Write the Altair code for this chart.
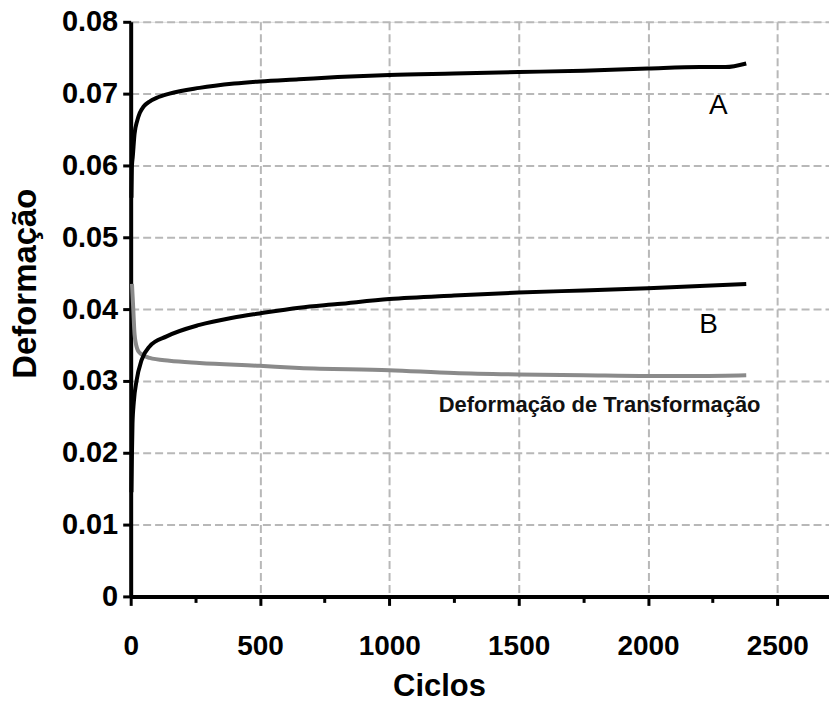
import altair as alt
import pandas as pd

# --- data ---
a_cycles = [3, 5, 8, 15, 25, 35, 50, 73, 100, 150, 266, 400, 500, 650, 800, 1000, 1250, 1500, 1750, 2000, 2200, 2300, 2380]
a_strain = [0.0555, 0.0600, 0.0612, 0.0644, 0.0662, 0.0673, 0.0682, 0.0689, 0.0694, 0.0700, 0.0708, 0.0714, 0.0717, 0.0720, 0.0723, 0.0726, 0.0728, 0.0730, 0.0732, 0.0735, 0.0737, 0.0737, 0.0742]

b_cycles = [3, 5, 7, 12, 23, 42, 73, 139, 266, 394, 498, 652, 800, 1000, 1250, 1500, 1750, 2000, 2200, 2380]
b_strain = [0.0145, 0.0200, 0.0240, 0.0270, 0.0301, 0.0329, 0.0348, 0.0362, 0.0378, 0.0388, 0.0394, 0.0402, 0.0407, 0.0414, 0.0419, 0.0423, 0.0426, 0.0429, 0.0432, 0.0435]

t_cycles = [5, 10, 15, 25, 35, 73, 150, 266, 498, 652, 1000, 1250, 1500, 1750, 2000, 2200, 2380]
t_strain = [0.0435, 0.0400, 0.0365, 0.0345, 0.0339, 0.0332, 0.0328, 0.0325, 0.0321, 0.0318, 0.0315, 0.0311, 0.0309, 0.0308, 0.0307, 0.0307, 0.0308]

big_labels = ["A", "B"]
big_label_x = [2272, 2234]
big_label_y = [0.0683, 0.0378]

small_label = ["Deformação de Transformação"]
small_label_x = [1813]
small_label_y = [0.0267]

x_ticks = [0, 250, 500, 750, 1000, 1250, 1500, 1750, 2000, 2250, 2500]
y_ticks = [round(i * 0.005, 3) for i in range(17)]

FONT = "Liberation Sans"

df_a = pd.DataFrame({"c": a_cycles, "v": a_strain})
df_b = pd.DataFrame({"c": b_cycles, "v": b_strain})
df_t = pd.DataFrame({"c": t_cycles, "v": t_strain})
df_big = pd.DataFrame({"t": big_labels, "c": big_label_x, "v": big_label_y})
df_small = pd.DataFrame({"t": small_label, "c": small_label_x, "v": small_label_y})

major_x = "datum.value % 500 === 0"
major_y = "abs(datum.value * 100 - round(datum.value * 100)) < 1e-6"

x_scale = alt.Scale(domain=[0, 2700], nice=False, zero=True)
y_scale = alt.Scale(domain=[0, 0.08], nice=False)

x_axis = alt.Axis(
    title="Ciclos",
    values=x_ticks,
    labelExpr=f"{major_x} ? datum.label : ''",
    format="d",
    grid=True,
    gridColor="#b8b8b8",
    gridDash=[8, 4],
    gridWidth=2,
    gridOpacity={"condition": {"test": f"{major_x} && datum.value > 0", "value": 1}, "value": 0},
    tickSize={"condition": {"test": major_x, "value": 9}, "value": 6},
    tickColor="black",
    tickWidth=3,
    domainColor="black",
    domainWidth=4,
    labelFont=FONT,
    labelFontSize=28,
    labelFontWeight="bold",
    labelColor="black",
    labelPadding=27,
    labelFlush=False,
    titleFont=FONT,
    titleFontSize=31,
    titleFontWeight="bold",
    titleColor="black",
    titleX=309,
    titleY=90,
    titleBaseline="middle",
    titleAlign="center",
)

y_axis = alt.Axis(
    title="Deformação",
    values=y_ticks,
    labelExpr=f"{major_y} ? datum.label : ''",
    format=".2~f",
    grid=True,
    gridColor="#b8b8b8",
    gridDash=[8, 4],
    gridWidth=2,
    gridOpacity={"condition": {"test": f"{major_y} && datum.value > 0", "value": 1}, "value": 0},
    tickSize=8,
    tickColor="black",
    tickWidth=3,
    domainColor="black",
    domainWidth=4,
    labelFont=FONT,
    labelFontSize=29,
    labelFontWeight="bold",
    labelColor="black",
    labelPadding=5,
    labelFlush=False,
    titleFont=FONT,
    titleFontSize=33,
    titleFontWeight="bold",
    titleColor="black",
    titleAngle=270,
    titleX=-105,
    titleY=262,
    titleBaseline="middle",
    titleAlign="center",
)

base_x = alt.X("c:Q", scale=x_scale, axis=x_axis)
base_y = alt.Y("v:Q", scale=y_scale, axis=y_axis)

line_a = alt.Chart(df_a).mark_line(color="black", strokeWidth=4, interpolate="monotone").encode(
    x=base_x, y=base_y, order="c:Q")
line_b = alt.Chart(df_b).mark_line(color="black", strokeWidth=4, interpolate="monotone").encode(
    x=alt.X("c:Q"), y=alt.Y("v:Q"), order="c:Q")
line_t = alt.Chart(df_t).mark_line(color="#8a8a8a", strokeWidth=4, interpolate="monotone").encode(
    x=alt.X("c:Q"), y=alt.Y("v:Q"), order="c:Q")

big_text = alt.Chart(df_big).mark_text(font=FONT, fontSize=28, color="black", align="center", baseline="middle").encode(
    x=alt.X("c:Q"), y=alt.Y("v:Q"), text="t:N")
small_text = alt.Chart(df_small).mark_text(font=FONT, fontSize=22, fontWeight="bold", color="#111111", align="center", baseline="middle").encode(
    x=alt.X("c:Q"), y=alt.Y("v:Q"), text="t:N")

chart = alt.layer(line_a, line_t, line_b, big_text, small_text).properties(
    width=700,
    height=576,
    autosize=alt.AutoSizeParams(type="none"),
    padding={"left": 131, "top": 21, "right": 0, "bottom": 106},
).configure_view(stroke="black", strokeWidth=3.5).configure(background="white")

chart.save("out.html", embed_options={"renderer": "svg", "actions": False})
